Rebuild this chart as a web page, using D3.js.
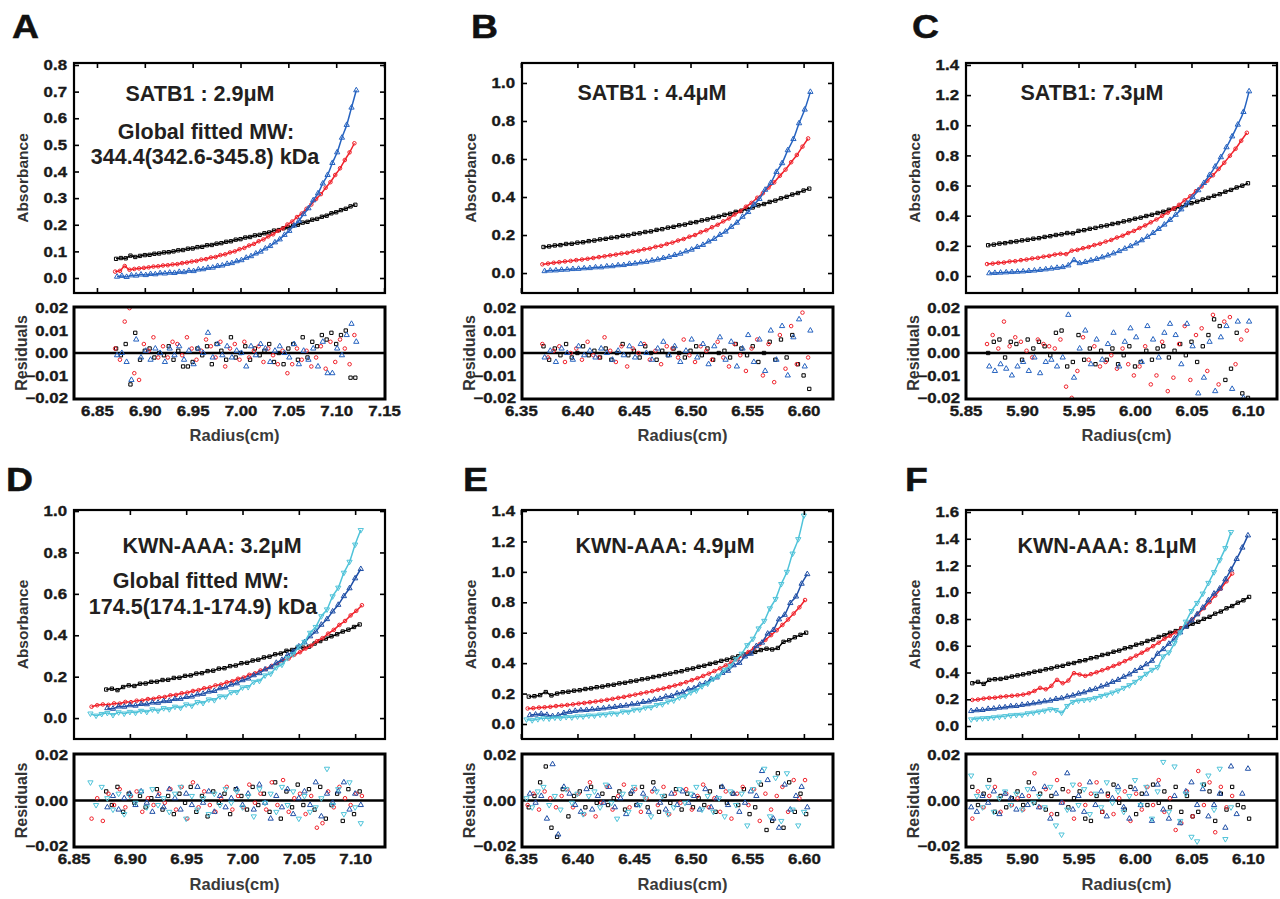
<!DOCTYPE html>
<html><head><meta charset="utf-8">
<script src="https://cdn.jsdelivr.net/npm/d3@7/dist/d3.min.js"></script>
<style>body{margin:0;background:#fff}svg{display:block}</style>
</head><body>
<svg id="chart" width="1280" height="899"></svg>
<script>
// ---------------- DATA (radius spacing between scans points: 0.005 cm; residuals in units of 0.001) ----------------
const STEP = 0.005;
const RES_UNIT = 0.001;

// Panel A  SATB1 2.9 uM
const A_x0 = {black: 6.870, red: 6.869, blue: 6.871};
const A_black = [.072,.075,.074,.084,.079,.083,.086,.087,.091,.092,.096,.097,.100,.104,.105,.110,.111,.116,.117,.123,.124,.129,.131,.136,.138,.144,.146,.152,.154,.160,.162,.168,.171,.178,.180,.187,.190,.197,.200,.208,.211,.219,.222,.230,.234,.243,.247,.255,.260,.269,.275];
const A_red = [.024,.027,.045,.031,.034,.036,.038,.040,.043,.044,.047,.048,.051,.052,.056,.058,.062,.064,.069,.071,.077,.079,.086,.089,.096,.100,.108,.113,.122,.128,.138,.145,.156,.164,.177,.186,.201,.212,.229,.242,.260,.276,.297,.315,.339,.360,.387,.412,.443,.472,.506];
const A_blue = [.005,.008,.004,.010,.009,.013,.011,.015,.014,.018,.017,.020,.019,.023,.022,.027,.026,.032,.033,.038,.039,.045,.047,.053,.056,.063,.067,.076,.082,.092,.099,.111,.120,.134,.145,.162,.177,.197,.215,.240,.262,.292,.318,.355,.387,.432,.472,.527,.575,.640,.705];
const A_resBlack = [2,-1,4,-14,9,-3,1,2,-2,0,-1,3,-3,1,-6,-6,-4,2,-1,3,-5,4,1,-3,7,-2,0,3,-3,2,-1,1,4,-4,0,-5,2,4,-3,7,-2,5,3,8,6,9,4,8,10,-11,-11];
const A_resRed = [2,-3,14,20,-9,-12,4,1,7,-2,3,-2,5,4,-1,7,2,-3,1,6,3,-2,5,-6,2,4,-3,5,-2,1,3,-4,2,-1,-5,1,-9,-5,2,-3,1,-6,-2,3,-7,5,-4,6,2,-5,8];
const A_resBlue = [-1,0,-4,-12,6,-2,1,-3,2,0,-4,2,-1,3,-3,1,-5,2,0,9,-2,4,-1,3,-2,1,0,-6,3,-1,4,2,-4,1,3,0,-2,4,-5,1,-3,2,-6,5,-9,-9,2,-1,8,13,5];

// Panel B  SATB1 4.4 uM
const B_x0 = {black: 6.370, red: 6.369, blue: 6.371};
const B_black = [.137,.140,.145,.147,.153,.154,.160,.162,.168,.171,.177,.180,.186,.189,.196,.198,.206,.209,.216,.219,.227,.231,.239,.243,.251,.255,.264,.268,.277,.282,.291,.297,.306,.312,.322,.328,.338,.345,.356,.363,.374,.381,.393,.401,.413,.421,.434,.444];
const B_red = [.046,.050,.054,.057,.061,.064,.068,.071,.075,.079,.084,.088,.093,.097,.103,.106,.113,.117,.125,.129,.138,.143,.153,.160,.171,.179,.191,.200,.215,.225,.241,.254,.272,.287,.308,.325,.349,.369,.396,.420,.450,.477,.512,.544,.583,.621,.665,.708];
const B_blue = [.010,.013,.014,.017,.018,.021,.022,.025,.026,.030,.030,.035,.036,.041,.042,.048,.050,.056,.059,.066,.071,.079,.085,.095,.102,.114,.123,.137,.148,.166,.180,.201,.218,.243,.265,.296,.321,.360,.390,.438,.474,.532,.578,.646,.705,.788,.860,.953];
const B_resBlack = [3,-3,2,-1,4,-2,0,3,-1,1,-2,2,-3,0,4,-1,1,-2,3,0,-3,1,-1,2,0,-2,1,3,-1,2,-3,0,1,-2,4,2,-1,3,-4,0,5,-3,6,-2,8,-5,-10,-16];
const B_resRed = [4,-2,1,3,-4,0,2,-3,5,-1,-2,7,1,-4,3,-6,2,0,4,-3,1,-5,3,2,-2,6,-1,-4,3,1,-3,5,-2,-6,4,-1,-8,2,6,-10,4,-13,8,-7,12,-5,18,-2];
const B_resBlue = [-2,1,-4,2,0,-3,3,-1,1,-2,2,0,-3,1,-1,3,-2,4,0,-3,2,5,-1,3,-4,1,6,-2,4,-5,3,7,-3,5,-6,2,8,-4,6,-8,10,-3,12,-10,7,15,-6,10];

// Panel C  SATB1 7.3 uM
const C_x0 = {black: 5.870, red: 5.869, blue: 5.871};
const C_black = [.204,.208,.215,.218,.225,.229,.236,.240,.247,.251,.259,.264,.272,.276,.285,.283,.299,.304,.313,.319,.329,.335,.345,.351,.362,.369,.380,.387,.398,.406,.418,.426,.439,.447,.460,.470,.483,.493,.507,.518,.532,.543,.559,.571,.587,.599,.615];
const C_red = [.079,.082,.087,.089,.096,.098,.105,.109,.116,.120,.128,.133,.142,.147,.145,.168,.173,.184,.192,.205,.214,.228,.239,.255,.267,.285,.299,.318,.335,.356,.375,.399,.420,.447,.472,.502,.529,.563,.594,.632,.668,.710,.751,.798,.844,.897,.950];
const C_blue = [.018,.020,.022,.024,.026,.028,.030,.033,.036,.040,.044,.049,.054,.059,.070,.105,.085,.093,.103,.113,.124,.136,.150,.165,.181,.198,.216,.237,.260,.285,.312,.341,.372,.406,.442,.482,.523,.569,.617,.670,.726,.788,.854,.926,1.004,1.088,1.225];
const C_resBlack = [0,5,6,-2,5,4,-3,6,2,5,3,-1,9,10,-6,-4,8,-3,2,-5,1,-3,2,-5,-1,3,-6,-4,1,-3,2,3,-2,1,4,-1,5,-4,3,8,15,12,-12,-7,9,-18,-20];
const C_resRed = [4,8,2,14,3,7,5,1,-2,6,4,3,2,6,-15,-20,-8,7,-3,3,-6,-4,-1,-7,2,-5,-10,-6,3,-14,-10,5,-17,-11,4,12,-12,8,11,-8,17,-14,14,16,-5,6,10];
const C_resBlue = [-6,-8,-5,-7,-10,-6,-4,-8,-2,-9,-4,-3,-6,-2,17,-11,2,10,-5,6,-3,4,9,-6,5,11,7,-4,12,6,-2,9,13,8,-5,13,3,-18,-11,5,-17,7,12,-16,14,-20,14];

// Panel D  KWN-AAA 3.2 uM
const D_x0 = {black: 6.879, red: 6.866, blue: 6.880, cyan: 6.865};
const D_black = [.138,.142,.135,.150,.158,.155,.166,.167,.175,.176,.184,.185,.194,.195,.204,.206,.215,.217,.227,.229,.239,.241,.251,.254,.265,.267,.278,.282,.293,.297,.308,.312,.325,.329,.342,.340,.345,.360,.372,.384,.395,.405,.418,.427,.440,.452];
const D_red = [.055,.062,.066,.064,.071,.070,.078,.077,.084,.085,.092,.093,.100,.102,.110,.112,.120,.123,.131,.135,.144,.148,.158,.162,.173,.178,.190,.196,.209,.216,.230,.238,.252,.262,.278,.288,.306,.318,.336,.350,.371,.386,.408,.426,.450,.469,.496,.518,.545];
const D_blue = [.048,.045,.056,.055,.062,.060,.068,.067,.075,.074,.082,.083,.092,.093,.102,.104,.114,.117,.128,.131,.144,.148,.162,.168,.183,.191,.207,.217,.235,.246,.267,.281,.304,.320,.346,.366,.395,.418,.451,.478,.515,.547,.589,.627,.675,.720];
const D_cyan = [.022,.012,.020,.025,.015,.028,.022,.030,.026,.035,.030,.042,.036,.048,.043,.055,.050,.066,.060,.077,.073,.090,.087,.105,.104,.125,.126,.148,.150,.175,.180,.206,.215,.245,.258,.290,.308,.345,.368,.412,.440,.492,.525,.588,.630,.702,.755,.838,.908];
const D_resBlack = [4,-2,6,-5,3,-1,2,-3,1,5,-4,2,-6,3,-1,6,-5,2,-7,4,-1,3,-6,5,2,-4,6,-2,3,-5,8,-8,4,-3,7,-2,5,-4,6,-8,-2,3,-9,5,-6,4];
const D_resRed = [-8,1,-9,3,-2,5,-3,2,4,-5,1,-2,3,-1,5,-4,6,-8,8,-3,4,-2,-5,1,6,-4,2,-3,7,-1,3,-4,8,-2,9,-5,1,3,-6,2,-12,-10,4,-3,6,1,-2,3,2];
const D_resBlue = [-3,2,-4,1,3,-2,4,-1,-5,2,-3,5,1,-4,3,-2,6,-1,4,-5,2,-3,1,5,-2,3,-4,7,-1,-8,2,-3,5,-6,1,4,-2,8,-7,3,-1,4,8,-4,3,-2];
const D_resCyan = [8,-2,6,1,-4,3,-6,2,-1,4,-3,5,-2,1,-5,3,6,-8,2,-4,1,-6,3,-2,5,-1,4,-3,2,-7,5,-1,3,-5,6,-2,4,-8,2,-5,-3,1,14,-2,5,-6,8,-3,-10];

// Panel E  KWN-AAA 4.9 uM
const E_x0 = {black: 6.357, red: 6.356, blue: 6.358, cyan: 6.355};
const E_black = [.180,.183,.190,.210,.188,.200,.209,.212,.219,.222,.230,.234,.242,.246,.254,.258,.267,.271,.280,.285,.294,.299,.309,.315,.325,.331,.341,.347,.358,.365,.376,.383,.395,.403,.415,.423,.436,.445,.458,.466,.474,.486,.495,.490,.500,.540,.550,.570,.586,.600];
const E_red = [.102,.104,.108,.110,.113,.118,.121,.125,.129,.134,.138,.143,.148,.153,.159,.165,.172,.178,.186,.193,.201,.208,.216,.225,.233,.243,.253,.263,.275,.288,.301,.316,.331,.348,.366,.385,.405,.426,.449,.473,.498,.525,.553,.584,.616,.651,.687,.726,.767,.815];
const E_blue = [.058,.062,.066,.060,.052,.058,.072,.080,.086,.090,.092,.096,.099,.103,.108,.112,.118,.121,.130,.133,.145,.148,.160,.165,.180,.184,.201,.208,.228,.235,.258,.268,.294,.306,.336,.350,.386,.402,.444,.462,.512,.535,.594,.618,.688,.718,.795,.838,.922,.985];
const E_cyan = [.030,.025,.032,.038,.036,.042,.040,.046,.044,.050,.050,.056,.055,.062,.063,.070,.068,.082,.080,.094,.095,.108,.110,.125,.130,.148,.155,.175,.184,.208,.220,.248,.265,.297,.318,.356,.383,.428,.462,.518,.560,.628,.678,.760,.822,.920,1.000,1.120,1.215,1.370];
const E_resBlack = [-3,2,8,15,-12,-16,5,-7,2,4,-3,6,-1,3,-2,1,4,-4,3,-2,6,-3,8,-5,2,-1,5,-4,3,-3,1,-2,4,-5,6,-1,3,-2,5,-6,-3,7,-13,-9,12,-12,8,-5,3,-6];
const E_resRed = [-2,3,-4,4,1,-3,2,5,-3,3,-6,8,-7,-1,6,-4,2,7,-3,5,-5,1,4,-2,6,-6,3,-1,5,-4,2,7,-3,1,-5,4,-8,3,6,-2,5,-9,3,-4,2,6,-5,9,1,9];
const E_resBlue = [3,-1,2,-8,16,-15,6,3,-2,-5,5,-4,2,-1,6,-3,1,-6,4,-2,3,-5,5,-1,-4,3,-2,4,-1,2,-4,5,-3,1,6,-2,3,-5,-1,4,2,13,9,-8,-12,7,-4,2,6,-3];
const E_resCyan = [1,-3,4,6,-2,2,-4,5,-1,3,-6,2,4,-3,7,-1,-8,3,-5,6,-2,1,-7,4,2,-6,-3,5,-1,3,6,-4,2,-5,1,-7,4,-2,3,-11,5,8,14,-7,10,-9,12,-4,-11,-5];

// Panel F  KWN-AAA 8.1 uM
const F_x0 = {black: 5.856, red: 5.856, blue: 5.855, cyan: 5.855};
const F_black = [.320,.330,.315,.345,.350,.352,.360,.370,.378,.386,.394,.406,.412,.424,.431,.444,.450,.465,.471,.485,.492,.507,.515,.531,.539,.555,.564,.581,.590,.608,.618,.636,.647,.666,.678,.697,.710,.730,.744,.765,.779,.801,.816,.840,.856,.880,.897,.922,.940,.965];
const F_red = [.195,.198,.205,.210,.212,.218,.222,.226,.230,.235,.245,.262,.285,.275,.300,.345,.320,.340,.395,.385,.375,.388,.402,.417,.432,.449,.466,.485,.505,.526,.548,.572,.597,.623,.652,.675,.700,.730,.765,.800,.840,.881,.927,.975,1.027,1.082,1.140];
const F_blue = [.112,.118,.120,.128,.130,.137,.140,.148,.150,.158,.163,.170,.176,.185,.190,.202,.208,.220,.228,.242,.252,.268,.278,.296,.309,.330,.345,.368,.386,.412,.434,.462,.488,.540,.575,.615,.655,.700,.745,.790,.835,.885,.940,.990,1.028,1.097,1.170,1.249,1.334,1.425];
const F_cyan = [.050,.055,.058,.060,.065,.070,.074,.080,.083,.085,.095,.100,.108,.115,.125,.120,.100,.150,.180,.190,.195,.200,.210,.225,.235,.250,.265,.285,.305,.330,.360,.390,.420,.440,.520,.550,.620,.700,.780,.860,.920,.990,1.070,1.150,1.240,1.330,1.450];
const F_resBlack = [6,-2,3,9,-5,2,-3,1,4,-2,8,-1,3,-4,2,-6,5,-3,1,4,-8,-9,2,-5,3,7,-1,-4,6,-6,3,-2,7,-1,4,-3,6,-5,2,-7,-5,7,4,-9,3,-4,6,-2,-3,-8];
const F_resRed = [-8,4,-3,2,6,-5,3,-2,1,-4,2,12,-3,5,-6,9,-1,4,-8,7,-2,3,8,-5,2,-6,1,4,-9,3,-4,6,-2,9,-5,1,-13,-10,4,-7,13,-2,8,-14,6,-3,2];
const F_resBlue = [-3,-5,2,-1,4,-6,3,1,-4,2,-2,5,-3,6,-8,3,-1,12,-4,2,-5,8,-2,4,-7,1,6,-3,-8,5,-2,3,-9,7,-4,-8,2,-10,4,8,-2,5,-7,-2,3,-12,15,-6,3,14];
const F_resCyan = [11,2,-3,6,-5,1,4,-2,3,-4,5,-1,2,-3,6,-11,-15,-4,7,-2,5,-6,3,-3,8,-1,4,-5,2,9,-2,6,-8,4,17,-5,15,-9,3,-16,-18,7,11,-4,14,-17,-3];

// Tick values
const A_xTicks = [6.85,6.90,6.95,7.00,7.05,7.10,7.15];
const B_xTicks = [6.35,6.40,6.45,6.50,6.55,6.60];
const C_xTicks = [5.85,5.90,5.95,6.00,6.05,6.10];
const D_xTicks = [6.85,6.90,6.95,7.00,7.05,7.10];
const E_xTicks = [6.35,6.40,6.45,6.50,6.55,6.60];
const F_xTicks = [5.85,5.90,5.95,6.00,6.05,6.10];
const A_yTicks = [0.0,0.1,0.2,0.3,0.4,0.5,0.6,0.7,0.8];
const B_yTicks = [0.0,0.2,0.4,0.6,0.8,1.0];
const C_yTicks = [0.0,0.2,0.4,0.6,0.8,1.0,1.2,1.4];
const D_yTicks = [0.0,0.2,0.4,0.6,0.8,1.0];
const E_yTicks = [0.0,0.2,0.4,0.6,0.8,1.0,1.2,1.4];
const F_yTicks = [0.0,0.2,0.4,0.6,0.8,1.0,1.2,1.4,1.6];
const resTicksTop = [-0.02,-0.01,0.00,0.01,0.02];
const resTicksBottom = [-0.02,0.00,0.02];

// Texts
const A_texts = ["SATB1 : 2.9μM", "Global fitted MW:", "344.4(342.6-345.8) kDa"];
const B_texts = ["SATB1 : 4.4μM"];
const C_texts = ["SATB1: 7.3μM"];
const D_texts = ["KWN-AAA: 3.2μM", "Global fitted MW:", "174.5(174.1-174.9) kDa"];
const E_texts = ["KWN-AAA: 4.9μM"];
const F_texts = ["KWN-AAA: 8.1μM"];

// ---------------- LAYOUT / STYLE ----------------
const FONT = "'Liberation Sans', Arial, Helvetica, sans-serif";
const TXT = "#231f20";
const COL = {black: "#000000", red: "#f0222b", blue: "#2663c0", blue2: "#1f4fa6", cyan: "#4fc3d9"};
const W = 311;
const COLS = [74, 522, 966];
const ROWS = [
  {tT: 63, tB: 293, rT: 307, rB: 399, lab: 416, rad: 441, letter: 38},
  {tT: 510, tB: 739, rT: 754, rB: 847, lab: 864, rad: 890, letter: 491}
];

function ser(name, x0, vals, res, sym, color) { return {name, x0, vals, res, sym, color}; }

const panels = [
  {letter: "A", col: 0, row: 0, xDom: [6.826, 7.151], yDom: [-0.0563, 0.8075], xTicks: A_xTicks, yTicks: A_yTicks, resTicks: resTicksTop,
   series: [ser("black", A_x0.black, A_black, A_resBlack, "square", COL.black), ser("red", A_x0.red, A_red, A_resRed, "circle", COL.red), ser("blue", A_x0.blue, A_blue, A_resBlue, "triangle", COL.blue)],
   texts: A_texts, textPos: [[200, 101], [206, 139], [205, 164]], letterX: 12},
  {letter: "B", col: 1, row: 0, xDom: [6.351, 6.626], yDom: [-0.105, 1.105], xTicks: B_xTicks, yTicks: B_yTicks, resTicks: resTicksTop,
   series: [ser("black", B_x0.black, B_black, B_resBlack, "square", COL.black), ser("red", B_x0.red, B_red, B_resRed, "circle", COL.red), ser("blue", B_x0.blue, B_blue, B_resBlue, "triangle", COL.blue)],
   texts: B_texts, textPos: [[652, 100]], letterX: 471},
  {letter: "C", col: 2, row: 0, xDom: [5.8504, 6.1257], yDom: [-0.113, 1.413], xTicks: C_xTicks, yTicks: C_yTicks, resTicks: resTicksTop,
   series: [ser("black", C_x0.black, C_black, C_resBlack, "square", COL.black), ser("red", C_x0.red, C_red, C_resRed, "circle", COL.red), ser("blue", C_x0.blue, C_blue, C_resBlue, "triangle", COL.blue)],
   texts: C_texts, textPos: [[1092, 100]], letterX: 912},
  {letter: "D", col: 0, row: 1, xDom: [6.8504, 7.1265], yDom: [-0.101, 1.005], xTicks: D_xTicks, yTicks: D_yTicks, resTicks: resTicksBottom,
   series: [ser("black", D_x0.black, D_black, D_resBlack, "square", COL.black), ser("red", D_x0.red, D_red, D_resRed, "circle", COL.red), ser("blue", D_x0.blue, D_blue, D_resBlue, "triangle", COL.blue2), ser("cyan", D_x0.cyan, D_cyan, D_resCyan, "invtriangle", COL.cyan)],
   texts: D_texts, textPos: [[212, 553], [201, 588], [203, 614]], letterX: 6},
  {letter: "E", col: 1, row: 1, xDom: [6.351, 6.6257], yDom: [-0.0986, 1.4066], xTicks: E_xTicks, yTicks: E_yTicks, resTicks: resTicksBottom,
   series: [ser("black", E_x0.black, E_black, E_resBlack, "square", COL.black), ser("red", E_x0.red, E_red, E_resRed, "circle", COL.red), ser("blue", E_x0.blue, E_blue, E_resBlue, "triangle", COL.blue2), ser("cyan", E_x0.cyan, E_cyan, E_resCyan, "invtriangle", COL.cyan)],
   texts: E_texts, textPos: [[665, 553]], letterX: 463},
  {letter: "F", col: 2, row: 1, xDom: [5.8504, 6.1257], yDom: [-0.097, 1.615], xTicks: F_xTicks, yTicks: F_yTicks, resTicks: resTicksBottom,
   series: [ser("black", F_x0.black, F_black, F_resBlack, "square", COL.black), ser("red", F_x0.red, F_red, F_resRed, "circle", COL.red), ser("blue", F_x0.blue, F_blue, F_resBlue, "triangle", COL.blue2), ser("cyan", F_x0.cyan, F_cyan, F_resCyan, "invtriangle", COL.cyan)],
   texts: F_texts, textPos: [[1107, 553]], letterX: 905}
];

// ---------------- DRAW ----------------
const svg = d3.select("#chart");
svg.append("rect").attr("width", 1280).attr("height", 899).attr("fill", "#fff");
const defs = svg.append("defs");

const symGen = {
  square: d3.symbol(d3.symbolSquare, 11),
  circle: d3.symbol(d3.symbolCircle, 10),
  triangle: d3.symbol(d3.symbolTriangle, 12),
  invtriangle: d3.symbol(d3.symbolTriangle, 12)
};

function stretch(sel, k) {
  sel.each(function () {
    const w = this.getComputedTextLength();
    d3.select(this).attr("textLength", w * k).attr("lengthAdjust", "spacingAndGlyphs");
  });
}

function styleAxis(g, showText) {
  g.attr("font-family", FONT).attr("font-size", 14.5).attr("font-weight", "bold");
  g.select(".domain").remove();
  g.selectAll(".tick line").attr("stroke", "#000").attr("stroke-width", 1.6);
  g.selectAll(".tick text").attr("fill", "#1a1a1a").attr("stroke", "#1a1a1a").attr("stroke-width", 0.35);
  if (!showText) g.selectAll(".tick text").remove();
}

function drawMarkers(g, pts, s, xs, ys) {
  g.selectAll(null).data(pts).join("path")
    .attr("d", symGen[s.sym]())
    .attr("transform", d => `translate(${xs(d[0])},${ys(d[1])})` + (s.sym === "invtriangle" ? " rotate(180)" : ""))
    .attr("fill", "none").attr("stroke", s.color).attr("stroke-width", 1);
}

panels.forEach((p, pi) => {
  const L = COLS[p.col], R = L + W;
  const r = ROWS[p.row];
  const x = d3.scaleLinear().domain(p.xDom).range([L, R]);
  const y = d3.scaleLinear().domain(p.yDom).range([r.tB, r.tT]);
  const yr = d3.scaleLinear().domain([-0.0205, 0.0205]).range([r.rB, r.rT]);
  const g = svg.append("g");

  defs.append("clipPath").attr("id", "ct" + pi).append("rect").attr("x", L).attr("y", r.tT).attr("width", W).attr("height", r.tB - r.tT);
  defs.append("clipPath").attr("id", "cr" + pi).append("rect").attr("x", L).attr("y", r.rT).attr("width", W).attr("height", r.rB - r.rT);

  // ---- top (absorbance) plot ----
  const top = g.append("g").attr("clip-path", `url(#ct${pi})`);
  p.series.forEach(s => {
    const pts = s.vals.map((v, i) => [s.x0 + i * STEP, v]);
    top.append("path").datum(pts)
      .attr("d", d3.line().x(d => x(d[0])).y(d => y(d[1])).curve(d3.curveMonotoneX))
      .attr("fill", "none").attr("stroke", s.color).attr("stroke-width", 1.5);
    drawMarkers(top, pts, s, x, y);
  });

  g.append("g").attr("transform", `translate(${L},0)`)
    .call(d3.axisLeft(y).tickValues(p.yTicks).tickFormat(d3.format(".1f")).tickSize(-5).tickPadding(7))
    .call(a => styleAxis(a, true));
  g.append("g").attr("transform", `translate(${R},0)`)
    .call(d3.axisRight(y).tickValues(p.yTicks).tickSize(-5)).call(a => styleAxis(a, false));
  g.append("g").attr("transform", `translate(0,${r.tT})`)
    .call(d3.axisTop(x).tickValues(p.xTicks).tickSize(-5)).call(a => styleAxis(a, false));
  g.append("g").attr("transform", `translate(0,${r.tB})`)
    .call(d3.axisBottom(x).tickValues(p.xTicks).tickSize(-5)).call(a => styleAxis(a, false));
  g.append("rect").attr("x", L).attr("y", r.tT).attr("width", W).attr("height", r.tB - r.tT)
    .attr("fill", "none").attr("stroke", "#000").attr("stroke-width", 2.2);

  // ---- residual plot ----
  const res = g.append("g").attr("clip-path", `url(#cr${pi})`);
  res.append("line").attr("x1", L).attr("x2", R).attr("y1", yr(0)).attr("y2", yr(0))
    .attr("stroke", "#000").attr("stroke-width", 2.6);
  p.series.forEach(s => {
    const pts = s.res.map((v, i) => [s.x0 + i * STEP, v * RES_UNIT]);
    drawMarkers(res, pts, s, x, yr);
  });
  g.append("g").attr("transform", `translate(${L},0)`)
    .call(d3.axisLeft(yr).tickValues(p.resTicks).tickFormat(d3.format(".2f")).tickSize(0).tickPadding(6))
    .call(a => styleAxis(a, true));
  const xa = g.append("g").attr("transform", `translate(0,${r.rB})`)
    .call(d3.axisBottom(x).tickValues(p.xTicks).tickFormat(d3.format(".2f")).tickSize(0).tickPadding(6))
    .call(a => styleAxis(a, true));
  xa.selectAll(".tick text").attr("dy", null).attr("y", r.lab - r.rB).attr("dominant-baseline", "auto");
  g.append("rect").attr("x", L).attr("y", r.rT).attr("width", W).attr("height", r.rB - r.rT)
    .attr("fill", "none").attr("stroke", "#000").attr("stroke-width", 3);

  stretch(g.selectAll(".tick text"), 1.16);

  // axis titles
  g.append("text").attr("transform", `translate(${L - 46},${(r.tT + r.tB) / 2}) rotate(-90)`)
    .attr("text-anchor", "middle").attr("font-family", FONT).attr("font-weight", "bold").attr("font-size", 15.5)
    .attr("fill", "#333").text("Absorbance");
  g.append("text").attr("transform", `translate(${L - 47},${(r.rT + r.rB) / 2}) rotate(-90)`)
    .attr("text-anchor", "middle").attr("font-family", FONT).attr("font-weight", "bold").attr("font-size", 16)
    .attr("fill", "#333").text("Residuals");
  g.append("text").attr("x", (L + R) / 2 + 5).attr("y", r.rad)
    .attr("text-anchor", "middle").attr("font-family", FONT).attr("font-weight", "bold").attr("font-size", 16.5)
    .attr("fill", "#3a3a3a").text("Radius(cm)");

  // panel letter
  const lt = g.append("text").attr("x", p.letterX).attr("y", r.letter)
    .attr("font-family", FONT).attr("font-weight", "bold").attr("font-size", 34).attr("fill", "#111")
    .attr("stroke", "#111").attr("stroke-width", 0.5).text(p.letter);
  stretch(lt, 1.1);

  // annotation texts
  p.texts.forEach((t, i) => {
    g.append("text").attr("x", p.textPos[i][0]).attr("y", p.textPos[i][1])
      .attr("text-anchor", "middle").attr("font-family", FONT).attr("font-weight", "bold").attr("font-size", 21.5)
      .attr("fill", TXT).text(t);
  });
});
</script>
</body></html>
